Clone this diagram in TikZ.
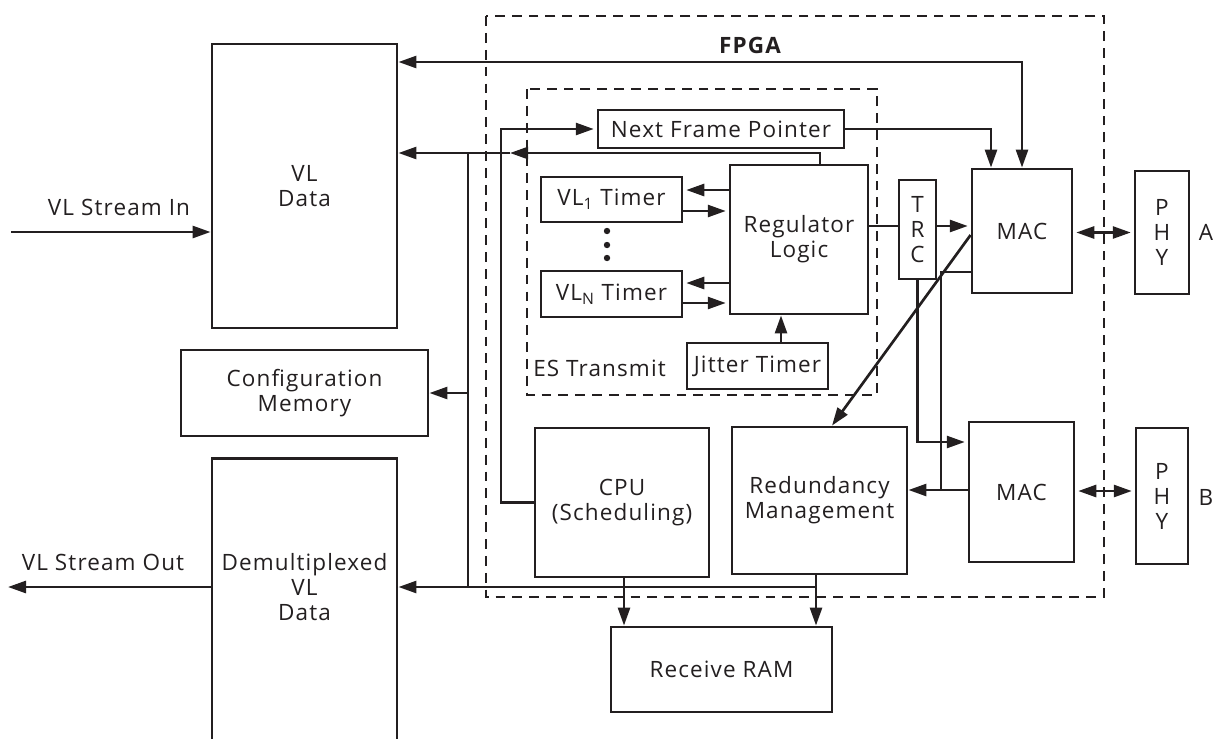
\documentclass[tikz,border=0pt]{standalone}
\usepackage{fontspec}
\setmainfont{Open Sans}[LetterSpace=5]
\usetikzlibrary{arrows.meta}
\definecolor{ink}{HTML}{231F20}
\tikzset{
  box/.style={draw=ink, line width=2pt, inner sep=0pt, align=center, text=ink, font=\fontsize{16}{17.8}\selectfont},
  lbl/.style={inner sep=0pt, text=ink, font=\fontsize{16}{17.8}\selectfont},
  wire/.style={draw=ink, line width=1.9pt},
  arr/.style={wire, -{Triangle[length=0.45cm,width=0.3cm]}},
  dblarr/.style={wire, {Triangle[length=0.45cm,width=0.3cm]}-{Triangle[length=0.45cm,width=0.3cm]}},
  region/.style={draw=ink, line width=1.9pt, dash pattern=on 7pt off 5pt},
}

\begin{document}
\begin{tikzpicture}[x=0.025cm, y=-0.025cm]
  \useasboundingbox (0,0) rectangle (1214,738);

  % dashed regions
  \draw[region] (486,16) rectangle (1104,597);
  \draw[region] (527,89) rectangle (877,395);
  \draw (750,45) node[lbl, font=\fontsize{16}{17.8}\selectfont\bfseries] (fpga) {FPGA};
  \draw (533,368) node[lbl, anchor=west] (estx) {ES Transmit};

  % outside blocks
  \draw (304.5,186) node[box, minimum width=4.625cm, minimum height=7.1cm] (vldata) {VL\\Data};
  \draw (304.5,393) node[box, minimum width=6.175cm, minimum height=2.15cm] (config) {Configuration\\Memory};
  \draw (304.5,457) node[box, anchor=north, minimum width=4.625cm, minimum height=7.2cm] (demux) {};
  \draw (304.5,587) node[lbl, align=center] (demuxtxt) {Demultiplexed\\VL\\Data};
  \draw (721.5,669.5) node[box, minimum width=5.525cm, minimum height=2.125cm] (ram) {Receive RAM};

  % ES transmit
  \draw (721,129) node[box, minimum width=6.15cm, minimum height=0.95cm] (nfp) {Next Frame Pointer};
  \draw (611.5,199.5) node[box, minimum width=3.525cm, minimum height=1.125cm] (vl1) {VL\textsubscript{1} Timer};
  \draw (611.5,294) node[box, minimum width=3.525cm, minimum height=1.15cm] (vln) {VL\textsubscript{N} Timer};
  \draw (799,239.5) node[box, minimum width=3.45cm, minimum height=3.725cm] (reg) {Regulator\\Logic};
  \draw (757.5,366) node[box, minimum width=3.525cm, minimum height=1.15cm] (jitter) {Jitter Timer};
  \foreach \y in {231,245,258}
    \fill[ink] (607,\y) circle (0.08cm);

  % network side
  \draw (917.5,229.5) node[box, minimum width=0.925cm, minimum height=2.475cm] (trc) {T\\R\\C};
  \draw (1022,231) node[box, minimum width=2.5cm, minimum height=3.1cm] (maca) {MAC};
  \draw (1162,232.5) node[box, minimum width=1.35cm, minimum height=3.075cm] (phya) {P\\H\\Y};
  \draw (1021.5,492) node[box, minimum width=2.625cm, minimum height=3.5cm] (macb) {MAC};
  \draw (1162,496) node[box, minimum width=1.3cm, minimum height=3.4cm] (phyb) {P\\H\\Y};
  \draw (1206,232) node[lbl] (porta) {A};
  \draw (1206,497) node[lbl] (portb) {B};

  % processing
  \draw (622,502.5) node[box, minimum width=4.35cm, minimum height=3.725cm] (cpu) {CPU\\(Scheduling)};
  \draw (819.5,500.5) node[box, minimum width=4.375cm, minimum height=3.675cm] (redund) {Redundancy\\Management};

  % stream in/out
  \coordinate (instart) at (11,232);
  \coordinate (outend) at (8,587);
  \draw[arr] (instart) -- (instart -| vldata.west);
  \draw (119,207) node[lbl] (inlbl) {VL Stream In};
  \draw[arr] (outend -| demux.west) -- (outend);
  \draw (103,562) node[lbl] (outlbl) {VL Stream Out};

  % connectors
  \coordinate (topbend) at (1022,62);
  \draw[dblarr] (topbend -| vldata.east) -- (topbend) -- (maca.north);
  \coordinate (regup) at (820,153);
  \coordinate (midtip) at (510,153);
  \draw[arr] (reg.north -| regup) -- (regup) -- (midtip);
  \draw[arr] (midtip) -- (midtip -| vldata.east);
  \coordinate (bustop) at (468,153);
  \coordinate (busbot) at (468,587);
  \draw[wire] (bustop) -- (busbot);
  \draw[arr] (config.east -| bustop) -- (config.east);
  \coordinate (rmdown) at (816,587);
  \draw[arr] (rmdown) -- (rmdown -| demux.east);
  \draw[arr] (redund.south -| rmdown) -- (ram.north -| rmdown);
  \draw[arr] (cpu.south -| 624,0) -- (ram.north -| 624,0);
  \coordinate (cpuloop) at (501,129);
  \draw[arr, shorten >=2pt] (cpu.west) -- (cpu.west -| cpuloop) -- (cpuloop) -- (nfp.west);
  \coordinate (nfpbend) at (991,129);
  \draw[arr] (nfp.east) -- (nfpbend) -- (nfpbend |- maca.north);
  \foreach \t/\ya/\yb in {vl1/190/211, vln/283/303} {
    \draw[arr, shorten >=2pt] (reg.west |- 0,\ya) -- (\t.east |- 0,\ya);
    \draw[arr, shorten >=2pt] (\t.east |- 0,\yb) -- (reg.west |- 0,\yb);
  }
  \draw[arr] (jitter.north -| 781,0) -- (reg.south -| 781,0);
  \draw[wire] (reg.east |- 0,226) -- (trc.west |- 0,226);
  \draw[arr, shorten >=2pt] (trc.east |- 0,226) -- (maca.west |- 0,226);
  \draw[dblarr, shorten <=2pt, shorten >=2pt] (maca.east |- phya.west) -- (phya.west);
  \coordinate (rmjoin) at (941,490);
  \draw[wire] (maca.west |- 0,272) -| (rmjoin);
  \draw[arr] (macb.west |- rmjoin) -- (redund.east |- rmjoin);
  \draw[arr, shorten >=2pt] (trc.south) |- (macb.west |- 0,442);
  \draw[arr] (maca.west |- 0,235) -- (redund.north -| 832,0);
  \draw[dblarr, shorten <=2pt, shorten >=2pt] (macb.east |- 0,491) -- (phyb.west |- 0,491);
\end{tikzpicture}
\end{document}
